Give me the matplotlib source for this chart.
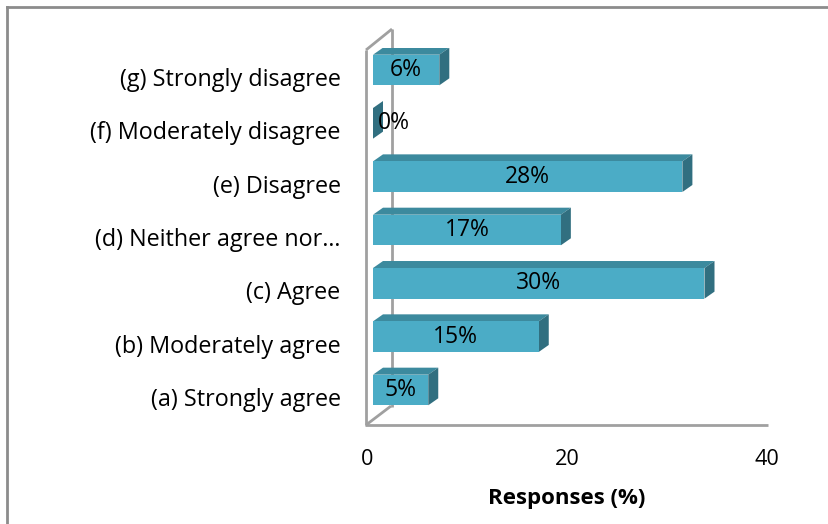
"""
Survey responses, 3D-look horizontal bar chart (Excel style).
"""

import matplotlib
matplotlib.use("Agg")
import matplotlib.pyplot as plt
from matplotlib.patches import Polygon
from matplotlib.lines import Line2D

plt.rcParams.update({
    "font.family": ["Open Sans", "DejaVu Sans"],
    "font.size": 16,
})

# ── Data ──────────────────────────────────
categories = [
    "(a) Strongly agree",
    "(b) Moderately agree",
    "(c) Agree",
    "(d) Neither agree nor\u2026",
    "(e) Disagree",
    "(f) Moderately disagree",
    "(g) Strongly disagree",
]
responses = [5, 15, 30, 17, 28, 0, 6]
x_ticks = [0, 20, 40]

# ── Colours / geometry ─────────────────────
FRONT = "#4BACC6"
TOP = "#3C8A9E"
SIDE = "#316F80"
WALL = "#A0A0A0"
W, H = 829, 524


def fx(x):
    return x / W


def fy(y):
    return 1 - y / H


fig = plt.figure(figsize=(W / 100, H / 100), dpi=100)

# axis that carries the tick labels (front floor edge)
unit = 53.3
lo = -(425 - 390) / unit
hi = 6 + (70 - 48) / unit
ax = fig.add_axes([fx(367), fy(425), fx(767) - fx(367), fy(48) - fy(425)])
ax.set_xlim(0, 40)
ax.set_ylim(lo + 0.13, hi + 0.13)
ax.set_xticks(x_ticks)
ax.set_yticks(range(len(categories)))
ax.set_yticklabels(categories, fontsize=16.8)
ax.tick_params(axis="x", length=0, pad=17.5, labelsize=15.6)
ax.tick_params(axis="y", length=0, pad=19)
for s in ax.spines.values():
    s.set_visible(False)
ax.patch.set_visible(False)
ax.set_xlabel("Responses (%)", fontweight="bold", fontsize=16, labelpad=13)

# wall and floor outline
walls = [
    [(365, 425), (768, 425)],
    [(366, 425), (366, 50)],
    [(366, 50), (392, 29)],
    [(392, 29), (392, 407)],
    [(366, 425), (391, 406)],
]
for seg in walls:
    ax.add_line(Line2D([fx(p[0]) for p in seg], [fy(p[1]) for p in seg],
                       transform=fig.transFigure, color=WALL, lw=2,
                       clip_on=False, solid_capstyle="butt"))

# frame around the chart object
fig.add_artist(Line2D([fx(7), fx(7)], [fy(7), 0], color="#8C8C8C", lw=2))
fig.add_artist(Line2D([fx(7), 1], [fy(7), fy(7)], color="#8C8C8C", lw=2))

# bars axis (front face plane)
axb = fig.add_axes([fx(373), fy(425), fx(815) - fx(373), fy(48) - fy(425)])
axb.set_xlim(0, 40)
axb.set_ylim(lo, hi)
axb.axis("off")

bar_h = 30.6 / unit
dx = 10 / (442 / 40)
dy = 7 / unit
for i, v in enumerate(responses):
    t = i + bar_h / 2
    b = i - bar_h / 2
    axb.add_patch(Polygon([(0, t), (v, t), (v + dx, t + dy), (dx, t + dy)],
                          closed=True, fc=TOP, ec="none"))
    axb.add_patch(Polygon([(v, b), (v, t), (v + dx, t + dy), (v + dx, b + dy)],
                          closed=True, fc=SIDE, ec="none"))
axb.barh(range(len(responses)), responses, height=bar_h, color=FRONT,
         edgecolor="none")

for i, v in enumerate(responses):
    if v == 0:
        axb.text(0.45, i, f"{v}%", ha="left", va="center", fontsize=16.5)
    else:
        axb.text(v / 2, i, f"{v}%", ha="center", va="center", fontsize=16.5)

fig.savefig("out.png", dpi=100)
